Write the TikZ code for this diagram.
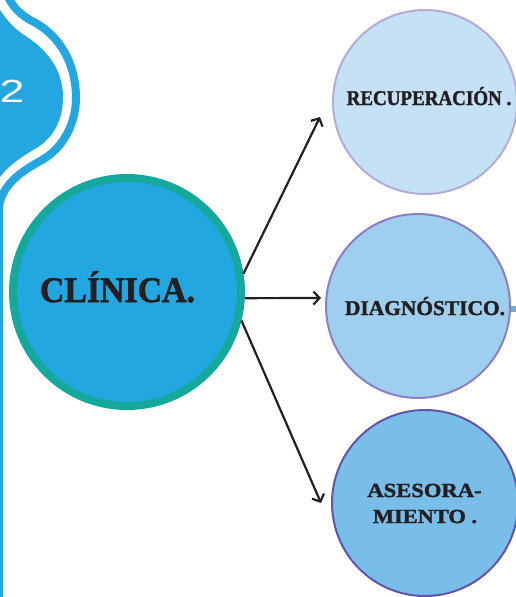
\documentclass[tikz,border=0pt]{standalone}
\usepackage{fontspec}
\setmainfont{Liberation Serif}
\setsansfont{Liberation Sans}
\newfontfamily\deco{Liberation Serif}[BoldFeatures={FakeBold=1.6}]
\usetikzlibrary{arrows.meta}

\definecolor{tabblue}{HTML}{24A6E1}
\definecolor{hubfill}{HTML}{22A7E0}
\definecolor{hubring}{HTML}{14A99C}
\definecolor{ink}{HTML}{231F20}
\definecolor{recfill}{HTML}{C4E1F5}
\definecolor{recring}{HTML}{B3ABD8}
\definecolor{diafill}{HTML}{9ECFEF}
\definecolor{diaring}{HTML}{8C80C2}
\definecolor{asefill}{HTML}{79BEE9}
\definecolor{asering}{HTML}{6254A6}
\definecolor{stub}{HTML}{7FA9CB}

\tikzset{
  bubble/.style={circle, inner sep=0pt, minimum size=184pt, line width=2pt},
  lbl/.style={anchor=base, inner sep=0pt, text=ink},
  conn/.style={draw=ink, line width=2.2pt, -{Straight Barb[length=6pt,width=13pt,line width=2.2pt]}}
}

\begin{document}
\begin{tikzpicture}[x=1pt,y=-1pt]
\useasboundingbox (0,0) rectangle (516,597);
\clip (0,0) rectangle (516,597);

% side tab with its outline
\fill[tabblue] (0,10) .. controls (8,22) and (14,28) .. (24,35)
  .. controls (45,48) and (63,68) .. (63,97)
  .. controls (63,122) and (52,140) .. (33,150)
  .. controls (20,158) and (8,166) .. (0,177) -- cycle;
\draw[tabblue, line width=8pt] (6,-8) .. controls (12,8) and (22,16) .. (34,22)
  .. controls (60,36) and (76,64) .. (76,98)
  .. controls (76,120) and (66,146) .. (42,160)
  .. controls (20,172) and (2,185) .. (-1,207) -- (-1,600);
\node[text=white, inner sep=0pt, font=\sffamily\fontsize{32}{32}\selectfont] (num) at (12,91) {\scalebox{1.4}[1]{2}};

% hub and branches
\node[circle, inner sep=0pt, minimum size=228pt, line width=8pt, draw=hubring, fill=hubfill] (main) at (127,292) {};
\node[bubble, draw=recring, fill=recfill] (rec) at (425,102) {};
\node[bubble, draw=diaring, fill=diafill] (dia) at (418,306) {};
\node[bubble, minimum size=186pt, draw=asering, fill=asefill] (ase) at (425,503) {};

% stub leaving the middle bubble
\node[fill=stub, inner sep=0pt, minimum width=8pt, minimum height=6pt, anchor=west] (stubbar) at ([yshift=-3pt]dia.east) {};

% labels
\node[lbl, font=\deco\bfseries\fontsize{36}{36}\selectfont] (mainlbl) at (117.5,302) {\scalebox{0.94}[1]{CLÍNICA.}};
\node[lbl, font=\deco\bfseries\fontsize{21}{21}\selectfont] (reclbl) at (429,105) {\scalebox{0.905}[1]{RECUPERACIÓN .}};
\node[lbl, font=\deco\bfseries\fontsize{21}{21}\selectfont] (dialbl) at (425,315) {\scalebox{1.02}[1]{DIAGNÓSTICO.}};
\node[lbl, font=\deco\bfseries\fontsize{20}{20}\selectfont] (aselbl1) at (424.5,497) {\scalebox{1.13}[1]{ASESORA-}};
\node[lbl, font=\deco\bfseries\fontsize{20}{20}\selectfont] (aselbl2) at (425,523) {\scalebox{1.12}[1]{MIENTO .}};

% connectors
\draw[conn] (main.9.7) -- ([xshift=-12pt,yshift=-15pt]rec.west);
\draw[conn] (main.-3) -- ([xshift=-4pt,yshift=8pt]dia.west);
\draw[conn] (main.-14.7) -- ([xshift=-10pt]ase.west);
\end{tikzpicture}
\end{document}
